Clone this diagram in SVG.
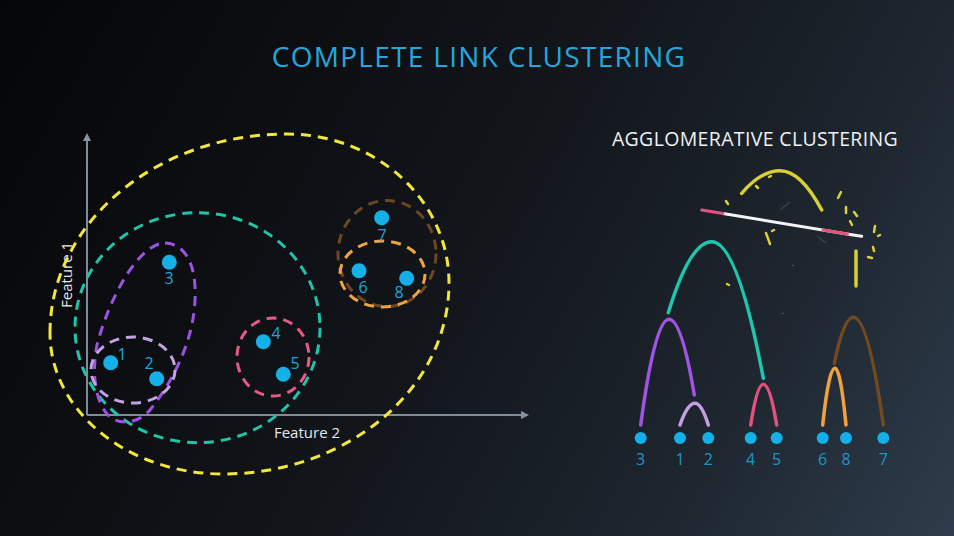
<svg xmlns="http://www.w3.org/2000/svg" width="954" height="536" viewBox="0 0 954 536">
  <defs>
    <linearGradient id="bg" x1="0" y1="0" x2="954" y2="536" gradientUnits="userSpaceOnUse">
      <stop offset="0" stop-color="#050607"/>
      <stop offset="0.45" stop-color="#111419"/>
      <stop offset="0.75" stop-color="#1d252e"/>
      <stop offset="1" stop-color="#2e3c4b"/>
    </linearGradient>
    <marker id="arr" viewBox="0 0 10 10" refX="5" refY="5" markerWidth="4" markerHeight="4" orient="auto">
      <path d="M0,0 L10,5 L0,10 z" fill="#8594a3"/>
    </marker>
    <style>
      .t { font-family: "Open Sans", "Noto Sans", "Liberation Sans", sans-serif; }
      .clu { fill: none; stroke-width: 3; stroke-dasharray: 10 7; }
      .dot { fill: #13b1e8; }
      .pl { fill: #1ea6dc; font-size: 16px; text-anchor: middle; }
      .dl { fill: #1a96c8; font-size: 16px; text-anchor: middle; }
      .arc { fill: none; stroke-width: 3.5; stroke-linecap: round; }
      .deb { fill: none; stroke: #d9d03a; stroke-width: 2.5; stroke-linecap: round; }
      .faint { fill: none; stroke: #4a5560; stroke-width: 1; }
    </style>
  </defs>

  <rect width="954" height="536" fill="url(#bg)"/>

  <text class="t" x="479" y="67" font-size="28" letter-spacing="1.3" fill="#22a8dc" text-anchor="middle">COMPLETE LINK CLUSTERING</text>

  <!-- Scatter plot -->
  <g id="axes">
    <line x1="87" y1="415" x2="87" y2="137" stroke="#7f8c99" stroke-width="2" marker-end="url(#arr)"/>
    <line x1="87" y1="415" x2="525" y2="415" stroke="#7f8c99" stroke-width="2" marker-end="url(#arr)"/>
    <text class="t" x="307" y="438" font-size="15" fill="#e6e8ea" text-anchor="middle">Feature 2</text>
    <text class="t" transform="translate(72,275) rotate(-90)" font-size="15" fill="#e6e8ea" text-anchor="middle">Feature 1</text>
  </g>

  <g id="clusters">
    <path class="clu" stroke="#f3e83a" d="M50,333 C50,223 156,134 287,134 C376.5,134 449,200.7 449,283 C449,388.5 347.8,474 223,474 C127.5,474 50,410.9 50,333 Z"/>
    <ellipse class="clu" stroke="#1fc4ab" cx="197.5" cy="327.7" rx="122.5" ry="115"/>
    <path class="clu" stroke="#9d52e2" d="M165,243 C182,243 197,260 195,300 C193,345 170,385 150,410 C138,424 118,426 108,415 C94,400 92,370 97,345 C110,295 140,243 165,243 Z"/>
    <ellipse class="clu" stroke="#c6a2e2" cx="133" cy="370" rx="42" ry="33"/>
    <ellipse class="clu" stroke="#e65a86" cx="273" cy="357" rx="36" ry="39"/>
    <ellipse class="clu" stroke="#6e4721" cx="387" cy="253.5" rx="49" ry="53"/>
    <ellipse class="clu" stroke="#f0a33e" cx="382.5" cy="274" rx="42.5" ry="33"/>
  </g>

  <g id="p1"><circle class="dot" cx="110.7" cy="362.7" r="7.5"/><text class="t pl" x="122" y="360">1</text></g>
  <g id="p2"><circle class="dot" cx="156.7" cy="378.7" r="7.5"/><text class="t pl" x="149" y="369">2</text></g>
  <g id="p3"><circle class="dot" cx="169.3" cy="262.3" r="7.5"/><text class="t pl" x="169" y="284">3</text></g>
  <g id="p4"><circle class="dot" cx="263.3" cy="341.7" r="7.5"/><text class="t pl" x="276" y="339">4</text></g>
  <g id="p5"><circle class="dot" cx="283.3" cy="374.3" r="7.5"/><text class="t pl" x="295" y="369">5</text></g>
  <g id="p6"><circle class="dot" cx="359" cy="270.7" r="7.5"/><text class="t pl" x="363" y="293">6</text></g>
  <g id="p7"><circle class="dot" cx="381.7" cy="217.7" r="7.5"/><text class="t pl" x="382" y="241">7</text></g>
  <g id="p8"><circle class="dot" cx="406.7" cy="278.3" r="7.5"/><text class="t pl" x="399" y="298">8</text></g>

  <!-- Dendrogram -->
  <text class="t" x="755" y="146" font-size="19.5" letter-spacing="0.35" fill="#f0f2f4" text-anchor="middle">AGGLOMERATIVE CLUSTERING</text>

  <g id="dendrogram-links">
    <path class="arc" stroke="#a054e2" d="M640.7,425 Q654.8,319.3 669,319.3 Q681.6,319.3 694.3,395"/>
    <path class="arc" stroke="#c3a0e0" d="M680,425 Q687.5,403.3 695,403.3 Q701.6,403.3 708.3,425"/>
    <path class="arc" stroke="#e2527e" d="M750.7,425 Q757,384.3 763.3,384.3 Q770,384.3 776.7,425"/>
    <path class="arc" stroke="#1fc6ae" d="M668.3,312.7 Q690,241.7 711.7,241.7 Q737.5,241.7 763.3,378.3"/>
    <path class="arc" stroke="#f0a240" d="M822.7,425 Q828.8,368.3 835,368.3 Q840.5,368.3 846,425"/>
    <path class="arc" stroke="#73491f" d="M834.3,363.3 Q843.8,317.3 853.3,317.3 Q868.3,317.3 883.3,425"/>
    <path class="arc" stroke="#d7cf34" d="M741.7,193.3 Q760.8,170.7 780,170.7 Q800.8,170.7 821.7,210"/>
    <line class="arc" stroke="#d7cf34" x1="856" y1="251" x2="856" y2="286"/>
    <!-- broken link -->
    <line x1="723" y1="213.5" x2="850" y2="234.4" stroke="#f4f4f4" stroke-width="3" stroke-linecap="round"/>
    <line x1="701.7" y1="210" x2="723" y2="213.5" stroke="#e2527e" stroke-width="3" stroke-linecap="round"/>
    <line x1="821.7" y1="229.8" x2="850" y2="234.4" stroke="#e2527e" stroke-width="3"/>
    <line x1="850" y1="234.4" x2="861.7" y2="236.3" stroke="#f4f4f4" stroke-width="3" stroke-linecap="round"/>
    <!-- debris -->
    <line class="deb" x1="726" y1="201" x2="728" y2="204"/>
    <line class="deb" x1="756" y1="186" x2="758" y2="188"/>
    <line class="deb" x1="769" y1="177" x2="771" y2="176"/>
    <line class="deb" x1="766" y1="233" x2="770" y2="244"/>
    <line class="deb" x1="846" y1="207" x2="846" y2="213"/>
    <line class="deb" x1="854" y1="212" x2="857" y2="216"/>
    <line class="deb" x1="850" y1="221" x2="852" y2="225"/>
    <line class="deb" x1="875" y1="226" x2="874" y2="232"/>
    <line class="deb" x1="878" y1="236" x2="880" y2="235" stroke-width="1.5"/>
    <line class="deb" x1="873" y1="247" x2="874" y2="251"/>
    <line class="deb" x1="868" y1="257" x2="872" y2="258"/>
    <line class="deb" x1="727" y1="284" x2="729" y2="285" stroke-width="1.5"/>
    <line class="deb" x1="838" y1="198" x2="841" y2="192" stroke="#8c8a40" stroke-width="1.5"/>
    <line class="deb" x1="772" y1="231" x2="774" y2="230" stroke-width="1.5"/>
    <line class="faint" x1="780" y1="210" x2="790" y2="202"/>
    <line class="faint" x1="817" y1="236" x2="826" y2="243" stroke="#7a7a40"/>
    <line class="faint" x1="792" y1="265" x2="794" y2="266"/>
    <line class="faint" x1="782" y1="314" x2="784" y2="313"/>
  </g>

  <g id="d3"><circle class="dot" cx="640.7" cy="438" r="6"/><text class="t dl" x="640.7" y="465">3</text></g>
  <g id="d1"><circle class="dot" cx="680" cy="438" r="6"/><text class="t dl" x="680" y="465">1</text></g>
  <g id="d2"><circle class="dot" cx="708.3" cy="438" r="6"/><text class="t dl" x="708.3" y="465">2</text></g>
  <g id="d4"><circle class="dot" cx="750.7" cy="438" r="6"/><text class="t dl" x="750.7" y="465">4</text></g>
  <g id="d5"><circle class="dot" cx="776.7" cy="438" r="6"/><text class="t dl" x="776.7" y="465">5</text></g>
  <g id="d6"><circle class="dot" cx="822.7" cy="438" r="6"/><text class="t dl" x="822.7" y="465">6</text></g>
  <g id="d8"><circle class="dot" cx="846" cy="438" r="6"/><text class="t dl" x="846" y="465">8</text></g>
  <g id="d7"><circle class="dot" cx="883.3" cy="438" r="6"/><text class="t dl" x="883.3" y="465">7</text></g>
</svg>
